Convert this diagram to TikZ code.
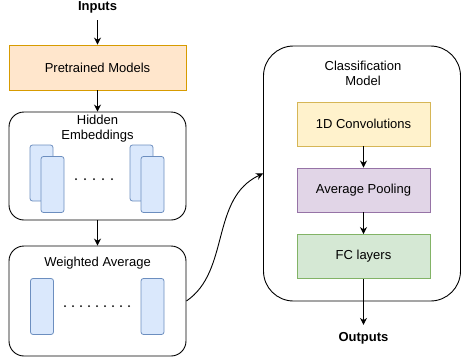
\documentclass[tikz,border=0pt]{standalone}
\usepackage{fontspec}
\setmainfont{Liberation Sans}
\usetikzlibrary{shapes.geometric, arrows.meta}
\definecolor{orfill}{HTML}{FFE6CC}
\definecolor{ordraw}{HTML}{D79B00}
\definecolor{yefill}{HTML}{FFF2CC}
\definecolor{yedraw}{HTML}{D6B656}
\definecolor{pufill}{HTML}{E1D5E7}
\definecolor{pudraw}{HTML}{9673A6}
\definecolor{grfill}{HTML}{D5E8D4}
\definecolor{grdraw}{HTML}{82B366}
\definecolor{blfill}{HTML}{DAE8FC}
\definecolor{bldraw}{HTML}{6C8EBF}
\tikzstyle{layer} = [rectangle, 
minimum width=133, 
minimum height=44, 
text centered, 
line width=0.9pt]
\tikzstyle{container} = [rectangle, rounded corners=15, 
minimum width=177, 
draw=black, 
line width=0.9pt]
\tikzstyle{vec} = [rectangle, rounded corners=2.5, 
minimum width=23, 
minimum height=56, 
draw=bldraw, 
fill=blfill, 
line width=0.8pt]
\tikzstyle{title} = [font=\fontsize{13}{15.5}\selectfont, align=center, inner sep=0]
\tikzstyle{arrow} = [line width=0.9pt,-{Stealth[length=7,width=7]}]

\begin{document}
\begin{tikzpicture}[x=1pt, y=-1pt, font=\fontsize{13}{15.5}\selectfont]
\useasboundingbox (0,0) rectangle (461,362);

\node (inputs) [title, font=\fontsize{13}{15.5}\selectfont\bfseries] at (97.5,7) {Inputs};

\node (pre) [layer, minimum width=177, minimum height=45, draw=ordraw, fill=orfill] at (97.5,67.5) {Pretrained Models};

\node (hid) [container, minimum height=108] at (97.5,166) {};
\node (hidtitle) [title] at (97.5,128.5) {Hidden\\Embeddings};
\node (h1) [vec] at (41.5,173) {};
\node (h2) [vec] at (52.5,184.5) {};
\node (h3) [vec] at (141.5,173) {};
\node (h4) [vec] at (152.5,184.5) {};
\foreach \i in {0,...,4} \fill (76+\i*9,179) circle (1);

\node (wavg) [container, minimum height=110] at (97.5,301) {};
\node (wavgtitle) [title] at (97.5,263) {Weighted Average};
\node (w1) [vec] at (42,306.5) {};
\node (w2) [vec] at (152.5,306.5) {};
\foreach \i in {0,...,8} \fill (65+\i*8,306) circle (1);

\node (cls) [container, rounded corners=30, minimum width=197, minimum height=255] at (362,173.5) {};
\node (clstitle) [title] at (363,73.5) {Classification\\Model};

\node (conv) [layer, draw=yedraw, fill=yefill] at (363.5,124) {1D Convolutions};
\node (pool) [layer, draw=pudraw, fill=pufill] at (363.5,190) {Average Pooling};
\node (fc) [layer, draw=grdraw, fill=grfill] at (363.5,256.5) {FC layers};

\node (outputs) [title, font=\fontsize{13}{15.5}\selectfont\bfseries] at (363.5,338) {Outputs};

\draw [arrow, shorten <=7pt] (inputs) -- (pre);
\draw [arrow] (pre) -- (hid);
\draw [arrow] (hid) -- (wavg);
\draw [arrow] (wavg.east) .. controls +(44,-30) and +(-53,25) .. (cls.west);
\draw [arrow] (conv) -- (pool);
\draw [arrow] (pool) -- (fc);
\draw [arrow, shorten >=7pt] (fc) -- (outputs);
\end{tikzpicture}
\end{document}
